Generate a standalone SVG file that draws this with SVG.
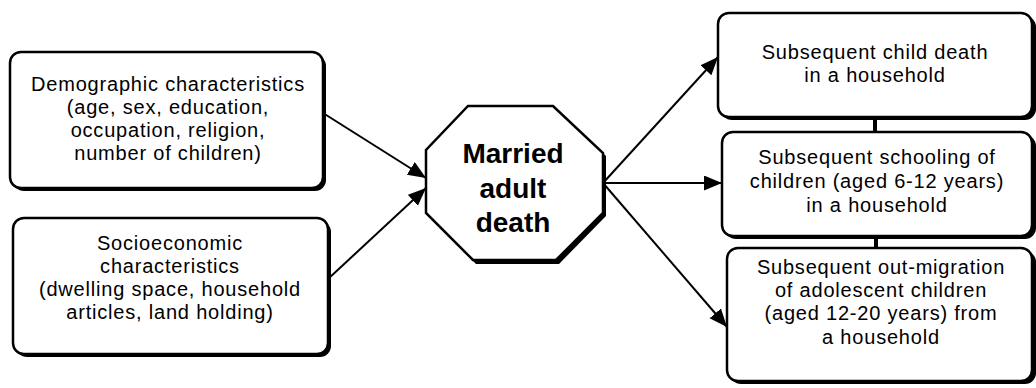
<svg xmlns="http://www.w3.org/2000/svg" width="1036" height="388" viewBox="0 0 1036 388">
<style>
.shadow{fill:#000}
.box{fill:#fff;stroke:#000;stroke-width:2.5}
.t{font-family:"Liberation Sans",Arial,sans-serif;font-size:20px;letter-spacing:0.8px;fill:#000;text-anchor:middle}
.tb{font-family:"Liberation Sans",Arial,sans-serif;font-size:28px;font-weight:bold;fill:#000;text-anchor:middle}
.edge{stroke:#000;stroke-width:2;fill:none}
.link{stroke:#000;stroke-width:4;fill:none}
</style>
<defs>
<marker id="arr" markerUnits="userSpaceOnUse" markerWidth="20" markerHeight="16" refX="18" refY="7.5" orient="auto">
<path d="M0,0 L18,7.5 L0,15 z" fill="#000"/>
</marker>
</defs>
<g id="connectors">
<line class="edge" x1="323" y1="113" x2="426" y2="178" marker-end="url(#arr)"/>
<line class="edge" x1="328" y1="279" x2="426" y2="188" marker-end="url(#arr)"/>
<line class="edge" x1="603" y1="183" x2="718" y2="57" marker-end="url(#arr)"/>
<line class="edge" x1="603" y1="183" x2="722" y2="183" marker-end="url(#arr)"/>
<line class="edge" x1="603" y1="183" x2="727" y2="327" marker-end="url(#arr)"/>
<line class="link" x1="875" y1="117" x2="875" y2="133"/>
<line class="link" x1="876" y1="236" x2="876" y2="249"/>
</g>
<g id="demographic">
<rect class="shadow" x="13" y="55" width="313" height="136" rx="11"/>
<rect class="box" x="10" y="52" width="313" height="136" rx="11"/>
<text class="t" x="168" y="91">Demographic characteristics</text>
<text class="t" x="168" y="114">(age, sex, education,</text>
<text class="t" x="168" y="137">occupation, religion,</text>
<text class="t" x="168" y="160">number of children)</text>
</g>
<g id="socioeconomic">
<rect class="shadow" x="16" y="221" width="315" height="136" rx="11"/>
<rect class="box" x="13" y="218" width="315" height="136" rx="11"/>
<text class="t" x="170" y="250">Socioeconomic</text>
<text class="t" x="170" y="273">characteristics</text>
<text class="t" x="170" y="296">(dwelling space, household</text>
<text class="t" x="170" y="319">articles, land holding)</text>
</g>
<g id="death">
<polygon class="shadow" points="471,109 556,109 606,156 606,216 559,264 476,264 429,216 429,153"/>
<polygon class="box" points="468,106 553,106 603,153 603,213 556,260 473,260 426,213 426,150"/>
<text class="tb" x="513" y="163">Married</text>
<text class="tb" x="513" y="198">adult</text>
<text class="tb" x="513" y="232">death</text>
</g>
<g id="childdeath">
<rect class="shadow" x="721" y="16" width="315" height="104" rx="11"/>
<rect class="box" x="718" y="13" width="314" height="104" rx="11"/>
<text class="t" x="875" y="59">Subsequent child death</text>
<text class="t" x="875" y="82">in a household</text>
</g>
<g id="schooling">
<rect class="shadow" x="725" y="135" width="311" height="104" rx="11"/>
<rect class="box" x="722" y="132" width="310" height="104" rx="11"/>
<text class="t" x="877" y="164">Subsequent schooling of</text>
<text class="t" x="877" y="188">children (aged 6-12 years)</text>
<text class="t" x="877" y="212">in a household</text>
</g>
<g id="migration">
<rect class="shadow" x="730" y="251" width="306" height="133" rx="11"/>
<rect class="box" x="727" y="248" width="305" height="133" rx="11"/>
<text class="t" x="881" y="274">Subsequent out-migration</text>
<text class="t" x="881" y="297">of adolescent children</text>
<text class="t" x="881" y="320">(aged 12-20 years) from</text>
<text class="t" x="881" y="344">a household</text>
</g>
</svg>
